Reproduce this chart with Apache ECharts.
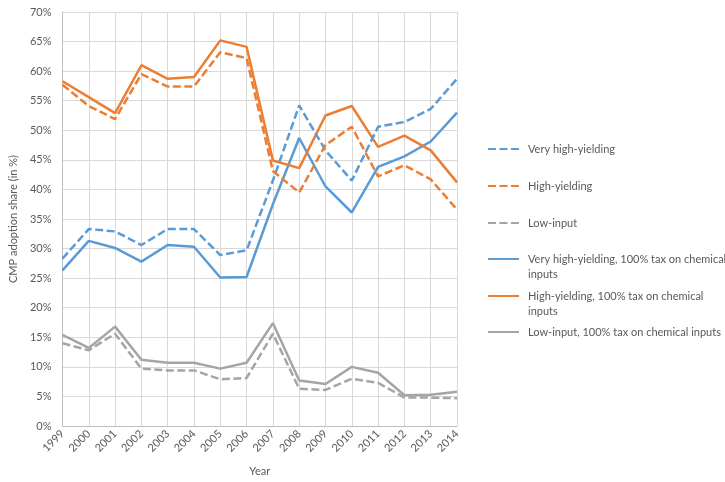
<!DOCTYPE html>
<html>
<head>
<meta charset="utf-8">
<script src="https://cdn.jsdelivr.net/npm/echarts@6/dist/echarts.min.js"></script>
<style>
  html, body { margin: 0; padding: 0; background: #fff; }
  #chart { width: 725px; height: 482px; }
</style>
</head>
<body>
<div id="chart"></div>
<script>
// data (values in %)
const years = ["1999", "2000", "2001", "2002", "2003", "2004", "2005", "2006",
  "2007", "2008", "2009", "2010", "2011", "2012", "2013", "2014"];

const veryHigh = [28.3, 33.3, 32.9, 30.6, 33.3, 33.3, 28.9, 29.7, 41.5, 54.2, 46.6, 41.5, 50.6, 51.4, 53.6, 58.7];
const high = [57.7, 54.1, 51.9, 59.5, 57.4, 57.4, 63.2, 62.2, 43.1, 39.5, 47.5, 50.6, 42.2, 44.1, 41.7, 36.6];
const lowInput = [14.0, 12.8, 15.6, 9.7, 9.4, 9.4, 7.9, 8.1, 15.6, 6.3, 6.1, 8.0, 7.3, 4.8, 4.8, 4.7];
const veryHighTax = [26.3, 31.3, 30.1, 27.8, 30.6, 30.3, 25.1, 25.2, 37.5, 48.7, 40.5, 36.1, 43.8, 45.6, 48.1, 53.0];
const highTax = [58.3, 55.6, 52.9, 61.0, 58.7, 59.0, 65.2, 64.1, 44.9, 43.6, 52.5, 54.1, 47.2, 49.1, 46.6, 41.2];
const lowInputTax = [15.4, 13.2, 16.8, 11.2, 10.7, 10.7, 9.7, 10.7, 17.4, 7.7, 7.1, 10.0, 9.0, 5.2, 5.3, 5.8];

const names = [
  "Very high-yielding",
  "High-yielding",
  "Low-input",
  "Very high-yielding, 100% tax on chemical inputs",
  "High-yielding, 100% tax on chemical inputs",
  "Low-input, 100% tax on chemical inputs",
];
const values = [veryHigh, high, lowInput, veryHighTax, highTax, lowInputTax];
const colors = ["#5b9bd5", "#ed7d31", "#a5a5a5", "#5b9bd5", "#ed7d31", "#a5a5a5"];

const font = "Lato";
const textColor = "#595959";
const fs = 11;

const chart = echarts.init(document.getElementById("chart"));

// one legend per item so the two-line labels don't push the spacing
const legendCenters = [149, 186, 223, 259, 296, 332];
const wrapped = {
  [names[3]]: " \nVery high-yielding, 100% tax on chemical\ninputs",
  [names[4]]: " \nHigh-yielding, 100% tax on chemical\ninputs",
};
const legends = names.map((n, i) => ({
  data: [n],
  left: 487,
  top: wrapped[n] ? legendCenters[i] - 22.5 : legendCenters[i] - 7.5,
  itemWidth: 31,
  itemHeight: 12,
  itemGap: 0,
  padding: 0,
  selectedMode: false,
  itemStyle: { opacity: 0 },
  formatter: (name) => wrapped[name] || name,
  textStyle: { color: textColor, fontFamily: font, fontSize: fs, lineHeight: 15, padding: [0, 0, 0, 4] },
}));

chart.setOption({
  animation: false,
  grid: { left: 55, right: 268, top: 12, bottom: 54 },
  legend: legends,
  xAxis: {
    type: "category",
    boundaryGap: false,
    data: years,
    name: "Year",
    nameLocation: "middle",
    nameGap: 40,
    nameTextStyle: { color: textColor, fontFamily: font, fontSize: fs },
    axisLine: { lineStyle: { color: "#bfbfbf", width: 1 } },
    axisTick: { show: false },
    axisLabel: { rotate: 45, color: textColor, fontFamily: font, fontSize: fs, margin: 6 },
    splitLine: { show: true, lineStyle: { color: "#d9d9d9", width: 1 } },
  },
  yAxis: {
    type: "value",
    min: 0,
    max: 70,
    interval: 5,
    name: "CMP adoption share (in %)",
    nameLocation: "middle",
    nameGap: 36,
    nameTextStyle: { color: textColor, fontFamily: font, fontSize: fs },
    axisLine: { show: true, lineStyle: { color: "#bfbfbf", width: 1 } },
    axisTick: { show: false },
    axisLabel: { formatter: "{value}%", color: textColor, fontFamily: font, fontSize: fs, margin: 11 },
    splitLine: { lineStyle: { color: "#d9d9d9", width: 1 } },
  },
  series: names.map((n, i) => ({
    name: n,
    type: "line",
    data: values[i],
    symbol: "none",
    color: colors[i],
    lineStyle: {
      width: 2.5,
      color: colors[i],
      type: i < 3 ? [8, 3.5] : "solid",
    },
    z: i < 3 ? 3 : 2,
  })),
});
</script>
</body>
</html>
